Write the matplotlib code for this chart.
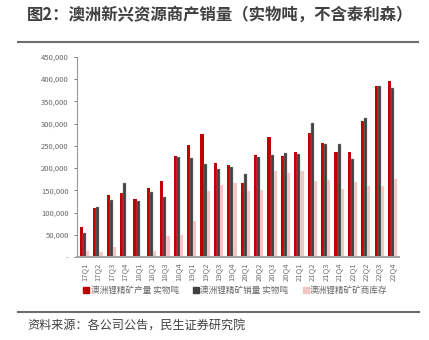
import numpy as np
import matplotlib
matplotlib.use('Agg')
import matplotlib.pyplot as plt
from matplotlib.ticker import FuncFormatter
from matplotlib.lines import Line2D

plt.rcParams['font.family'] = ['Noto Sans CJK SC', 'DejaVu Sans']

# data (tonnes)
quarters = ['17Q1', '17Q2', '17Q3', '17Q4', '18Q1', '18Q2', '18Q3', '18Q4',
            '19Q1', '19Q2', '19Q3', '19Q4', '20Q1', '20Q2', '20Q3', '20Q4',
            '21Q1', '21Q2', '21Q3', '21Q4', '22Q1', '22Q2', '22Q3', '22Q4']
production = [67000, 110000, 140000, 143000, 131000, 155000, 170000, 226000,
              251000, 276000, 211000, 206000, 167000, 229000, 270000, 228000,
              235000, 279000, 256000, 235000, 235000, 305000, 385000, 395000]
sales = [54000, 112000, 129000, 167000, 127000, 146000, 136000, 225000,
         222000, 208000, 198000, 202000, 186000, 225000, 229000, 233000,
         231000, 301000, 254000, 254000, 220000, 313000, 385000, 379000]
inventory = [13000, 11000, 22000, 1000, 3000, 13000, 47000, 49000,
             80000, 148000, 162000, 166000, 148000, 151000, 193000, 188000,
             193000, 170000, 172000, 153000, 168000, 159000, 159000, 176000]
labels = ['澳洲锂精矿产量 实物吨', '澳洲锂精矿销量 实物吨', '澳洲锂精矿矿商库存']
colors = ['#C00000', '#404040', '#F0C6C6']

fig = plt.figure(figsize=(4.29, 3.40), dpi=100)
ax = fig.add_axes([0.1795, 0.244, 0.7505, 0.589])

x = np.arange(len(quarters))
w = 0.23
ax.bar(x - w, production, w, color=colors[0], label=labels[0])
ax.bar(x, sales, w, color=colors[1], edgecolor='#9a9a9a', linewidth=0.3, label=labels[1])
ax.bar(x + w, inventory, w, color=colors[2], label=labels[2])

ax.set_xlim(-0.56, 23.47)
ax.set_ylim(0, 450000)
ax.set_yticks(np.arange(0, 450001, 50000))
ax.yaxis.set_major_formatter(FuncFormatter(lambda v, p: '-' if v == 0 else f'{int(v):,}'))
ax.set_xticks(x)
ax.set_xticklabels(quarters, rotation=90)

for s in ['top', 'right']:
    ax.spines[s].set_visible(False)
ax.spines['left'].set_color('#999999')
ax.spines['left'].set_linewidth(0.8)
ax.spines['bottom'].set_color('#a6a6a6')
ax.spines['bottom'].set_linewidth(1.5)
ax.tick_params(axis='y', labelsize=5.5, colors='#666666', length=2, width=0.6, pad=4)
ax.tick_params(axis='x', labelsize=5.5, colors='#707070', length=0, pad=4)

handles = [Line2D([], [], marker='s', linestyle='none', markersize=5,
                  markerfacecolor=c, markeredgecolor=c) for c in colors]
fig.legend(handles, labels, loc='center', bbox_to_anchor=(0.548, 0.145), ncol=3,
           frameon=False, fontsize=6.2, handletextpad=0.1, columnspacing=1.6,
           handlelength=0.8, labelcolor='#666666')

# title, rules and source
fig.text(0.063, 0.956, '图2：澳洲新兴资源商产销量（实物吨，不含泰利森）', fontsize=11.8,
         fontweight='bold', color='#404040', va='center', ha='left')
fig.add_artist(Line2D([0.042, 0.975], [0.876, 0.876], color='#6e6e6e', linewidth=1.5))
fig.add_artist(Line2D([0.042, 0.977], [0.083, 0.083], color='#6e6e6e', linewidth=1.5))
fig.text(0.063, 0.041, '资料来源：各公司公告，民生证券研究院', fontsize=8.7,
         color='#404040', va='center', ha='left')

fig.savefig('out.png', dpi=100)
